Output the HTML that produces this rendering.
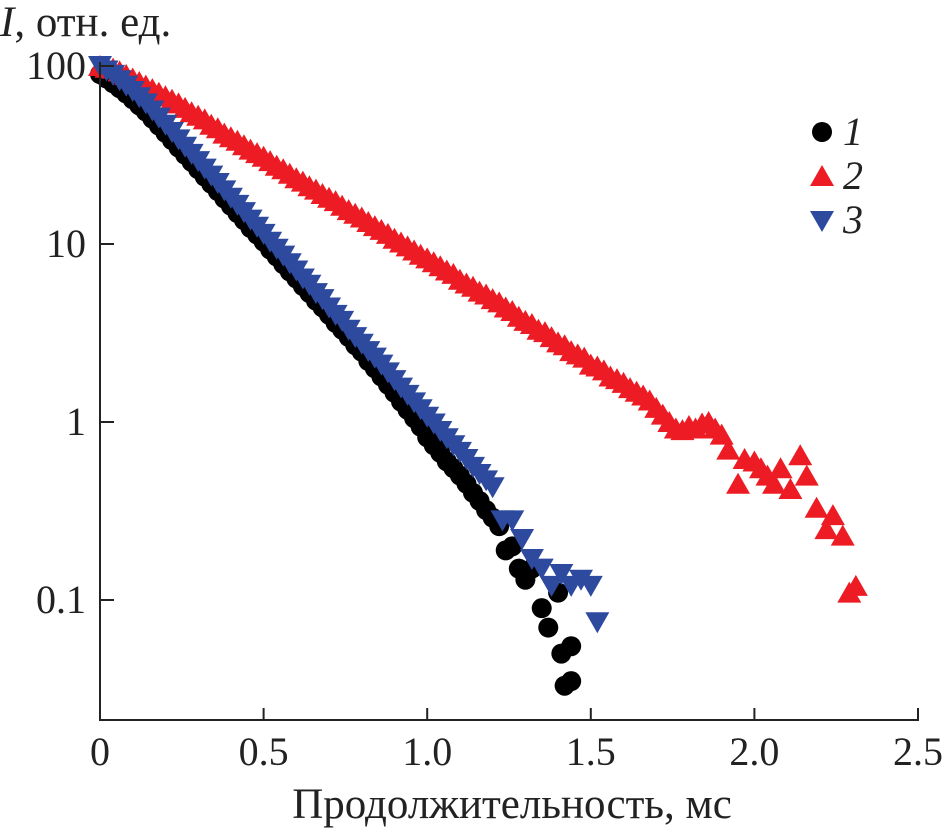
<!DOCTYPE html>
<html><head><meta charset="utf-8"><style>
html,body{margin:0;padding:0;background:#fff;}
svg{display:block;font-family:"Liberation Serif","DejaVu Serif",serif;}
</style></head><body>
<svg id="chart" width="947" height="832" viewBox="0 0 947 832">
<g id="marks"></g>
<g id="axes"></g>
</svg>
<script>
const xTicks=[0,0.5,1.0,1.5,2.0,2.5];
const xTickLabels=["0","0.5","1.0","1.5","2.0","2.5"];
const yTicks=[100,10,1,0.1];
const yTickLabels=["100","10","1","0.1"];
const tMain=[0,0.02,0.04,0.06,0.08,0.10,0.12,0.14,0.16,0.18,0.20,0.22,0.24,0.26,0.28,0.30,0.32,0.34,0.36,0.38,0.40,0.42,0.44,0.46,0.48,0.50,0.52,0.54,0.56,0.58,0.60,0.62,0.64,0.66,0.68,0.70,0.72,0.74,0.76,0.78,0.80,0.82,0.84,0.86,0.88,0.90,0.92,0.94,0.96,0.98,1.00,1.02,1.04,1.06,1.08,1.10,1.12,1.14,1.16,1.18,1.20];
const t1Tail=[1.22,1.24,1.26,1.28,1.30,1.32,1.35,1.37,1.40,1.41,1.42,1.44,1.44];
const v1=[90,85,80,75,70,65,60,55.5,50.6,46.2,42.1,38.3,34.8,31.7,28.9,26.3,23.9,21.8,19.8,18.0,16.4,14.9,13.6,12.3,11.3,10.3,9.3,8.5,7.7,7.0,6.4,5.8,5.3,4.8,4.4,4.0,3.6,3.3,3.0,2.7,2.48,2.2,2.0,1.8,1.62,1.46,1.3,1.17,1.05,0.94,0.82,0.74,0.67,0.6,0.55,0.5,0.45,0.4,0.36,0.32,0.29];
const v1Tail=[0.26,0.19,0.2,0.15,0.13,0.15,0.09,0.07,0.11,0.05,0.033,0.055,0.035];
const t2=[0,0.02,0.04,0.06,0.08,0.10,0.12,0.14,0.16,0.18,0.20,0.22,0.24,0.26,0.28,0.30,0.32,0.34,0.36,0.38,0.40,0.42,0.44,0.46,0.48,0.50,0.52,0.54,0.56,0.58,0.60,0.62,0.64,0.66,0.68,0.70,0.72,0.74,0.76,0.78,0.80,0.82,0.84,0.86,0.88,0.90,0.92,0.94,0.96,0.98,1.00,1.02,1.04,1.06,1.08,1.10,1.12,1.14,1.16,1.18,1.20,1.22,1.24,1.26,1.28,1.30,1.32,1.34,1.36,1.38,1.40,1.42,1.44,1.46,1.48,1.50,1.52,1.54,1.56,1.58,1.60,1.62,1.64,1.66,1.68,1.70,1.72,1.74,1.76,1.78,1.80,1.82,1.84,1.86,1.88,1.90,1.92,1.95,1.97,2.00,2.02,2.04,2.06,2.08,2.11,2.14,2.16,2.19,2.22,2.24,2.27,2.29,2.31];
const v2=[100,97.7,96.6,93.3,89.1,85.1,81.3,77.6,74.1,70.8,67.6,64.6,61.7,58.2,55.0,52.5,50.1,46.8,44.7,41.7,39.8,38.0,35.9,33.9,32.4,30.9,29.2,27.5,26.3,24.8,23.4,22.4,21.1,20.2,19.1,18.2,17.4,16.4,15.5,14.8,14.1,13.3,12.6,12.0,11.4,10.7,10.2,9.7,9.2,8.7,8.3,7.9,7.5,7.1,6.8,6.3,6.0,5.75,5.4,5.2,4.9,4.7,4.4,4.2,3.9,3.7,3.55,3.3,3.2,3.0,2.8,2.7,2.5,2.4,2.3,2.1,2.05,1.95,1.8,1.74,1.66,1.55,1.48,1.41,1.32,1.2,1.1,1.0,0.92,0.9,0.95,0.92,0.98,1.0,0.92,0.85,0.7,0.45,0.62,0.6,0.55,0.5,0.45,0.55,0.42,0.65,0.5,0.33,0.25,0.3,0.23,0.11,0.12];
const v3=[100,94.4,89.1,83.2,77.6,72.4,66.8,61.7,56.2,51.3,46.8,42.6,38.7,35.2,32.1,29.2,26.5,24.2,22.0,20.0,18.2,16.6,15.1,13.7,12.5,11.4,10.3,9.4,8.6,7.8,7.1,6.4,5.9,5.3,4.9,4.4,4.0,3.7,3.3,3.0,2.75,2.5,2.3,2.1,1.9,1.72,1.56,1.42,1.29,1.18,1.07,0.98,0.89,0.81,0.74,0.68,0.62,0.56,0.51,0.47,0.43];
const t3Tail=[1.23,1.26,1.29,1.32,1.35,1.38,1.41,1.44,1.47,1.50,1.52];
const v3Tail=[0.28,0.28,0.22,0.17,0.15,0.12,0.14,0.12,0.13,0.12,0.075];

const X0=100,XW=327.2,Y100=66,DEC=178;
function xs(t){return X0+t*XW;}
function ys(v){return Y100+(2-Math.log10(v))*DEC;}
const NS="http://www.w3.org/2000/svg";
const marks=document.getElementById('marks'),axes=document.getElementById('axes');
function mk(tag,attrs,parent){const e=document.createElementNS(NS,tag);for(const k in attrs)e.setAttribute(k,attrs[k]);parent.appendChild(e);return e;}
function circ(x,y,p){return mk('circle',{cx:x,cy:y,r:10,fill:'#000'},p);}
function tri(x,y,up,col,p){const h=10,w=12;const pts=up?`${x},${y-h-1} ${x-w},${y+h} ${x+w},${y+h}`:`${x},${y+h+1} ${x-w},${y-h} ${x+w},${y-h}`;return mk('polygon',{points:pts,fill:col},p);}
const T1=tMain.concat(t1Tail),V1=v1.concat(v1Tail);
const T3=tMain.concat(t3Tail),V3=v3.concat(v3Tail);
for(let i=0;i<T1.length;i++){const e=circ(xs(T1[i]),ys(V1[i]),marks);

}
for(let i=0;i<t2.length;i++){const e=tri(xs(t2[i]),ys(v2[i]),true,'#ed1c24',marks);

}
for(let i=0;i<T3.length;i++){const e=tri(xs(T3[i]),ys(V3[i]),false,'#2e4a9e',marks);

}
let a=mk('line',{x1:X0,y1:Y100-4,x2:X0,y2:721,stroke:'#222','stroke-width':2},axes);


a=mk('line',{x1:X0-1,y1:720,x2:xs(2.5)+1,y2:720,stroke:'#222','stroke-width':2},axes);


for(let i=0;i<xTicks.length;i++){const x=xs(xTicks[i]);
const l=mk('line',{x1:x,y1:720,x2:x,y2:708,stroke:'#222','stroke-width':2},axes);


const tx=mk('text',{x:x,y:765,'font-size':40,'text-anchor':'middle',fill:'#222'},axes);tx.textContent=xTickLabels[i];

}
for(let i=0;i<yTicks.length;i++){const y=ys(yTicks[i]);
const l=mk('line',{x1:X0,y1:y,x2:X0+14,y2:y,stroke:'#222','stroke-width':2},axes);


const tx=mk('text',{x:86,y:y+13,'font-size':40,'text-anchor':'end',fill:'#222'},axes);tx.textContent=yTickLabels[i];

}
let t=mk('text',{x:512,y:818,'font-size':43,'text-anchor':'middle',fill:'#222'},axes);t.textContent='Продолжительность, мс';


t=mk('text',{x:0,y:36,'font-size':43,fill:'#222'},axes);t.innerHTML='<tspan font-style="italic">I</tspan>, отн. ед.';


const lg=mk('g',{},axes);


circ(822,132,lg);tri(822,176,true,'#ed1c24',lg);tri(822,221,false,'#2e4a9e',lg);
['1','2','3'].forEach((s,i)=>{const e=mk('text',{x:843,y:145+i*44,'font-size':40,'font-style':'italic',fill:'#222'},lg);e.textContent=s;

});
</script>
</body></html>
